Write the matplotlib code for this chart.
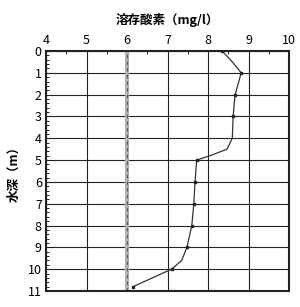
import matplotlib
matplotlib.use("Agg")
import matplotlib.pyplot as plt
from matplotlib.ticker import MultipleLocator

plt.rcParams['font.family'] = ['Noto Sans CJK JP', 'DejaVu Sans']

depth = [0, 0.5, 1, 2, 3, 4, 4.5, 4.8, 5, 6, 7, 8, 9, 9.6, 10, 10.8]
do_val = [8.35, 8.6, 8.82, 8.67, 8.62, 8.6, 8.47, 8.05, 7.72, 7.68, 7.65, 7.6, 7.48, 7.35, 7.1, 6.15]
marker_depth = [0, 1, 2, 3, 5, 6, 7, 8, 9, 10, 10.8]
marker_val = [8.35, 8.82, 8.67, 8.62, 7.72, 7.68, 7.65, 7.6, 7.48, 7.1, 6.15]
ref_x = 6.0
x_ticks = [4, 5, 6, 7, 8, 9, 10]
y_ticks = list(range(0, 12))

fig = plt.figure(figsize=(3.0, 3.07), dpi=100)
ax = fig.add_axes([46/300, 1-291/307, (289-46)/300, (291-51)/307])

ax.plot(do_val, depth, color='#333333', lw=0.9, zorder=3)
ax.plot(marker_val, marker_depth, ls='none', marker='s', ms=2, color='#222222', zorder=4)
ax.axvline(ref_x, color='#b0b0b0', lw=3, zorder=2)
ax.axvline(ref_x, color='#555555', lw=0.8, ls=(0, (3, 3)), zorder=2)

ax.set_xlim(4, 10)
ax.set_ylim(11, 0)
ax.xaxis.tick_top()
ax.xaxis.set_label_position('top')
ax.set_xticks(x_ticks)
ax.set_yticks(y_ticks)
ax.xaxis.set_minor_locator(MultipleLocator(0.5))
ax.yaxis.set_minor_locator(MultipleLocator(0.2))
ax.tick_params(axis='both', which='major', length=0, labelsize=9, pad=3)
ax.tick_params(axis='y', which='minor', direction='in', length=2.5, width=0.6, left=True)
ax.tick_params(axis='x', which='minor', direction='in', length=2.5, width=0.6, top=True)
ax.grid(True, which='major', color='#222222', lw=0.8)
for s in ax.spines.values():
    s.set_linewidth(1.5)
    s.set_color('#222222')

ax.set_xlabel('溶存酸素（mg/l）', fontsize=9, fontweight='bold', labelpad=7)
ax.set_ylabel('水深（m）', fontsize=9, fontweight='bold', labelpad=5)

fig.savefig('out.png', dpi=100)
